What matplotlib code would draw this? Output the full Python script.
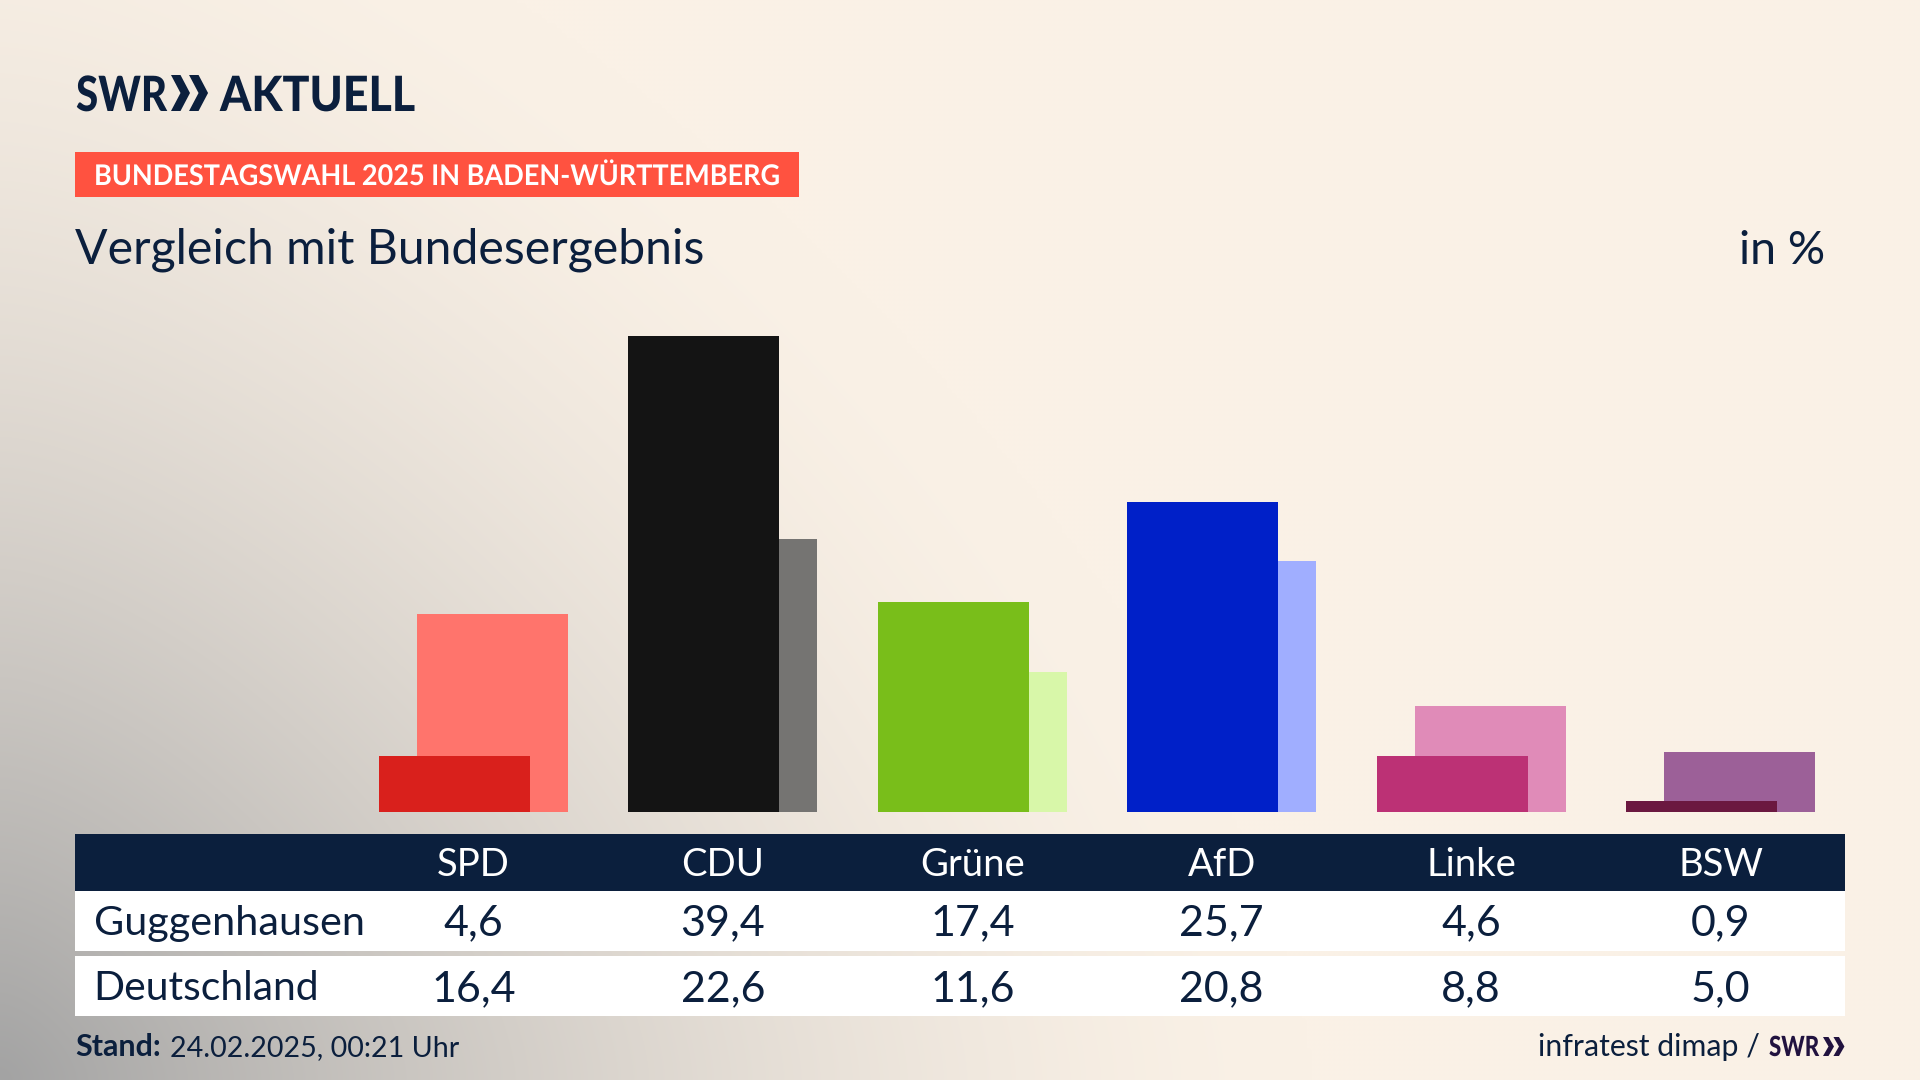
#!/usr/bin/env python3
# SWR Aktuell: Bundestagswahl 2025, Guggenhausen vs. Bund
import numpy as np
import matplotlib; matplotlib.use("Agg")
import matplotlib.pyplot as plt
from matplotlib.patches import Rectangle, Polygon
from matplotlib.patheffects import AbstractPathEffect
from matplotlib.transforms import Affine2D

parties = ["SPD", "CDU", "Grüne", "AfD", "Linke", "BSW"]
guggenhausen = [4.6, 39.4, 17.4, 25.7, 4.6, 0.9]
deutschland = [16.4, 22.6, 11.6, 20.8, 8.8, 5.0]
colors_local = ["#D9201C", "#141414", "#79BE1A", "#0020C8", "#BC3175", "#6B1840"]
colors_bund = ["#FF746C", "#757472", "#D8F7A9", "#A0AEFF", "#E08BB8", "#9C6098"]

NAVY = "#0B1F3D"
plt.rcParams["font.family"] = ["Lato", "DejaVu Sans"]

W, H = 1920, 1080
fig = plt.figure(figsize=(W / 100, H / 100), dpi=100)

# page in pixel coordinates, background + table + header live here
page = fig.add_axes([0, 0, 1, 1])
page.set_xlim(0, W); page.set_ylim(H, 0); page.axis("off")

# grey corner fading into cream
xx, yy = np.meshgrid(np.linspace(0, 1, 384), np.linspace(0, 1, 216))
d = ((xx / 0.68) ** 1.5 + ((1 - yy) / 1.2) ** 1.5) ** (1 / 1.5)
t = np.clip(1 - d, 0, 1) ** 1.6
cream = np.array([250, 241, 230]) / 255
grey = np.array([163, 163, 163]) / 255
bg = cream + (grey - cream) * t[..., None]
page.imshow(bg, extent=(0, W, H, 0), aspect="auto", interpolation="bicubic", zorder=0)
page.set_xlim(0, W); page.set_ylim(H, 0)

# bars: one unit on x is the 249.4 px between groups
base_px, unit_px, first_px = 812, 12.08, 473.5
step_px = 249.4
ax = fig.add_axes([75 / W, (H - base_px) / H, (1845 - 75) / W, 45 * unit_px / H])
ax.patch.set_alpha(0)
ax.set_xlim((75 - first_px) / step_px, (1845 - first_px) / step_px)
ax.set_ylim(0, 45)
ax.axis("off")
pos = np.arange(len(parties))
bar_w = 151 / step_px
off = 19 / step_px
ax.bar(pos + off, deutschland, bar_w, color=colors_bund, zorder=2)
ax.bar(pos - off, guggenhausen, bar_w, color=colors_local, zorder=3)


class Squeeze(AbstractPathEffect):
    # the SWR typeface is condensed, narrow the glyphs around their left edge
    def __init__(self, sx, x0):
        super().__init__()
        self.sx, self.x0 = sx, x0

    def draw_path(self, renderer, gc, tpath, affine, rgbFace=None):
        sq = Affine2D().translate(-self.x0, 0).scale(self.sx, 1).translate(self.x0, 0)
        renderer.draw_path(gc, tpath, affine + sq, rgbFace)


def squeezed(x, y, s, sx, **kw):
    return page.text(x, y, s, va="baseline", path_effects=[Squeeze(sx, x)], **kw)


# table
page.add_patch(Rectangle((75, 834), 1770, 57, color=NAVY, lw=0))
page.add_patch(Rectangle((75, 891), 1770, 60, color="white", lw=0))
page.add_patch(Rectangle((75, 956), 1770, 60, color="white", lw=0))
fmt = lambda v: f"{v:.1f}".replace(".", ",")
for i, p in enumerate(parties):
    cx = first_px + step_px * i
    page.text(cx, 876, p, color="white", fontsize=27.5, ha="center", va="baseline")
    page.text(cx, 935, fmt(guggenhausen[i]), color=NAVY, fontsize=31, ha="center", va="baseline")
    page.text(cx, 1001, fmt(deutschland[i]), color=NAVY, fontsize=31, ha="center", va="baseline")
page.text(94, 935, "Guggenhausen", color=NAVY, fontsize=29.8, va="baseline")
page.text(93, 1000, "Deutschland", color=NAVY, fontsize=29.4, va="baseline")


def chevrons(x, y0, y1, w, color):
    # the two SWR arrows
    for k in (0, 1):
        xl = x + k * w * 0.95
        page.add_patch(Polygon([(xl, y0), (xl + w * 0.5, y0), (xl + w, (y0 + y1) / 2),
                                (xl + w * 0.5, y1), (xl, y1), (xl + w * 0.5, (y0 + y1) / 2)],
                               color=color, lw=0))


# header
squeezed(76, 111, "SWR", 0.83, color=NAVY, fontsize=35, weight="black")
chevrons(171, 75, 111, 19, NAVY)
squeezed(220, 111, "AKTUELL", 0.92, color=NAVY, fontsize=35, weight="black")
page.add_patch(Rectangle((75, 152), 724, 45, color="#FF5240", lw=0))
squeezed(94, 185, "BUNDESTAGSWAHL 2025 IN BADEN-WÜRTTEMBERG", 0.95, color="white",
         fontsize=20.5, weight="bold")
page.text(75, 264, "Vergleich mit Bundesergebnis", color=NAVY, fontsize=34.7, va="baseline")
page.text(1825, 264, "in %", color=NAVY, fontsize=33.5, ha="right", va="baseline")

# footer
page.text(75, 1056, "Stand:", color=NAVY, fontsize=22, weight="bold", va="baseline")
page.text(170, 1056, "24.02.2025, 00:21 Uhr", color=NAVY, fontsize=20.6, va="baseline")
page.text(1760, 1056, "infratest dimap /", color=NAVY, fontsize=21.8, ha="right", va="baseline")
squeezed(1769, 1056, "SWR", 0.8, color="#21123F", fontsize=20, weight="black")
chevrons(1823, 1037, 1056, 11, "#21123F")

fig.savefig("out.png", dpi=100)
